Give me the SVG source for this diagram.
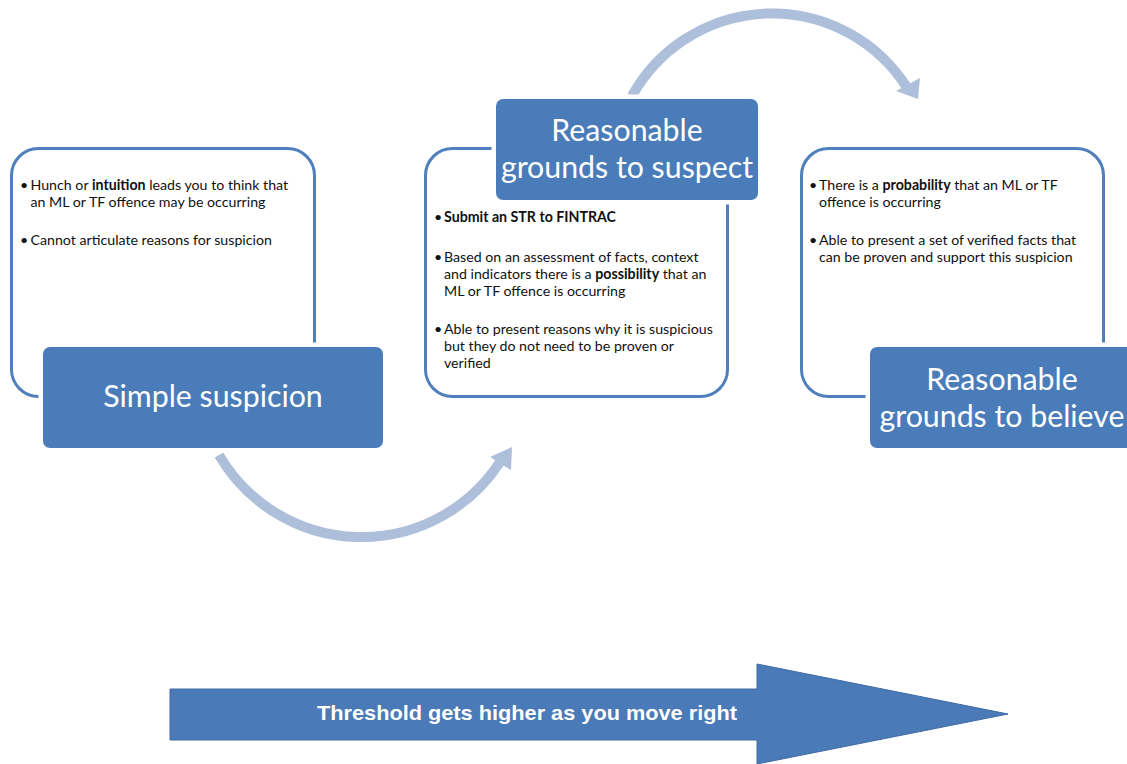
<svg xmlns="http://www.w3.org/2000/svg" width="1127" height="764" viewBox="0 0 1127 764">
<style>
.outline{fill:#fff;stroke:#4f7fbc;stroke-width:3}
.label{fill:#4a7cb9;stroke:#fff;stroke-width:9;paint-order:stroke}
.lt{font-family:Lato,"Open Sans",sans-serif;font-size:30.3px;fill:#fff;text-anchor:middle}
.bt{font-family:Lato,"Open Sans",sans-serif;font-size:14.2px;fill:#111}
.b{font-weight:bold}
.arc{fill:none;stroke:#adbfdb;stroke-width:10}
.head{fill:#adbfdb}
</style>
<g id="connectors">
<path class="arc" d="M 219,455 A 165 165 0 0 0 500,462"/>
<polygon class="head" points="490,457 512,447 511,470"/>
<path class="arc" d="M 632,96 A 160 160 0 0 1 906,86"/>
<polygon class="head" points="896,91 920,78 918,99"/>
</g>
<g id="node-simple">
<rect class="outline" x="11.5" y="148.5" width="303" height="248" rx="27"/>
<text class="bt"><tspan x="20" y="190">•</tspan><tspan x="30.5" y="190">Hunch or <tspan class="b">intuition</tspan> leads you to think that</tspan><tspan x="30.5" y="207">an ML or TF offence may be occurring</tspan><tspan x="20" y="245">•</tspan><tspan x="30.5" y="245">Cannot articulate reasons for suspicion</tspan></text>
<rect class="label" x="43" y="347" width="340" height="101" rx="7"/>
<text class="lt" x="213" y="407">Simple suspicion</text>
</g>
<g id="node-suspect">
<rect class="outline" x="425.5" y="148.5" width="302" height="248" rx="27"/>
<text class="bt"><tspan x="434" y="222">•</tspan><tspan x="444" y="222" class="b">Submit an STR to FINTRAC</tspan><tspan x="434" y="262">•</tspan><tspan x="444" y="262">Based on an assessment of facts, context</tspan><tspan x="444" y="279">and indicators there is a <tspan class="b">possibility</tspan> that an</tspan><tspan x="444" y="296">ML or TF offence is occurring</tspan><tspan x="434" y="334">•</tspan><tspan x="444" y="334">Able to present reasons why it is suspicious</tspan><tspan x="444" y="351">but they do not need to be proven or</tspan><tspan x="444" y="368">verified</tspan></text>
<rect class="label" x="496" y="99" width="262" height="101" rx="7"/>
<text class="lt" x="627" y="141">Reasonable</text>
<text class="lt" x="627" y="178">grounds to suspect</text>
</g>
<g id="node-believe">
<rect class="outline" x="801.5" y="148.5" width="302" height="248" rx="27"/>
<text class="bt"><tspan x="809" y="190">•</tspan><tspan x="819" y="190">There is a <tspan class="b">probability</tspan> that an ML or TF</tspan><tspan x="819" y="207">offence is occurring</tspan><tspan x="809" y="245">•</tspan><tspan x="819" y="245">Able to present a set of verified facts that</tspan><tspan x="819" y="262">can be proven and support this suspicion</tspan></text>
<rect class="label" x="870" y="347" width="270" height="101" rx="7"/>
<text class="lt" x="1002" y="390">Reasonable</text>
<text class="lt" x="1002" y="427">grounds to believe</text>
</g>
<g id="node-threshold">
<polygon points="170,689 757,689 757,664 1008,714 757,764 757,740 170,740" fill="#4a7ab7" stroke="#3f6aa3" stroke-width="1"/>
<text x="527" y="720" font-family="'Liberation Sans',Arial,sans-serif" font-weight="bold" font-size="21" fill="#fff" text-anchor="middle" textLength="420" lengthAdjust="spacingAndGlyphs">Threshold gets higher as you move right</text>
</g>
</svg>
